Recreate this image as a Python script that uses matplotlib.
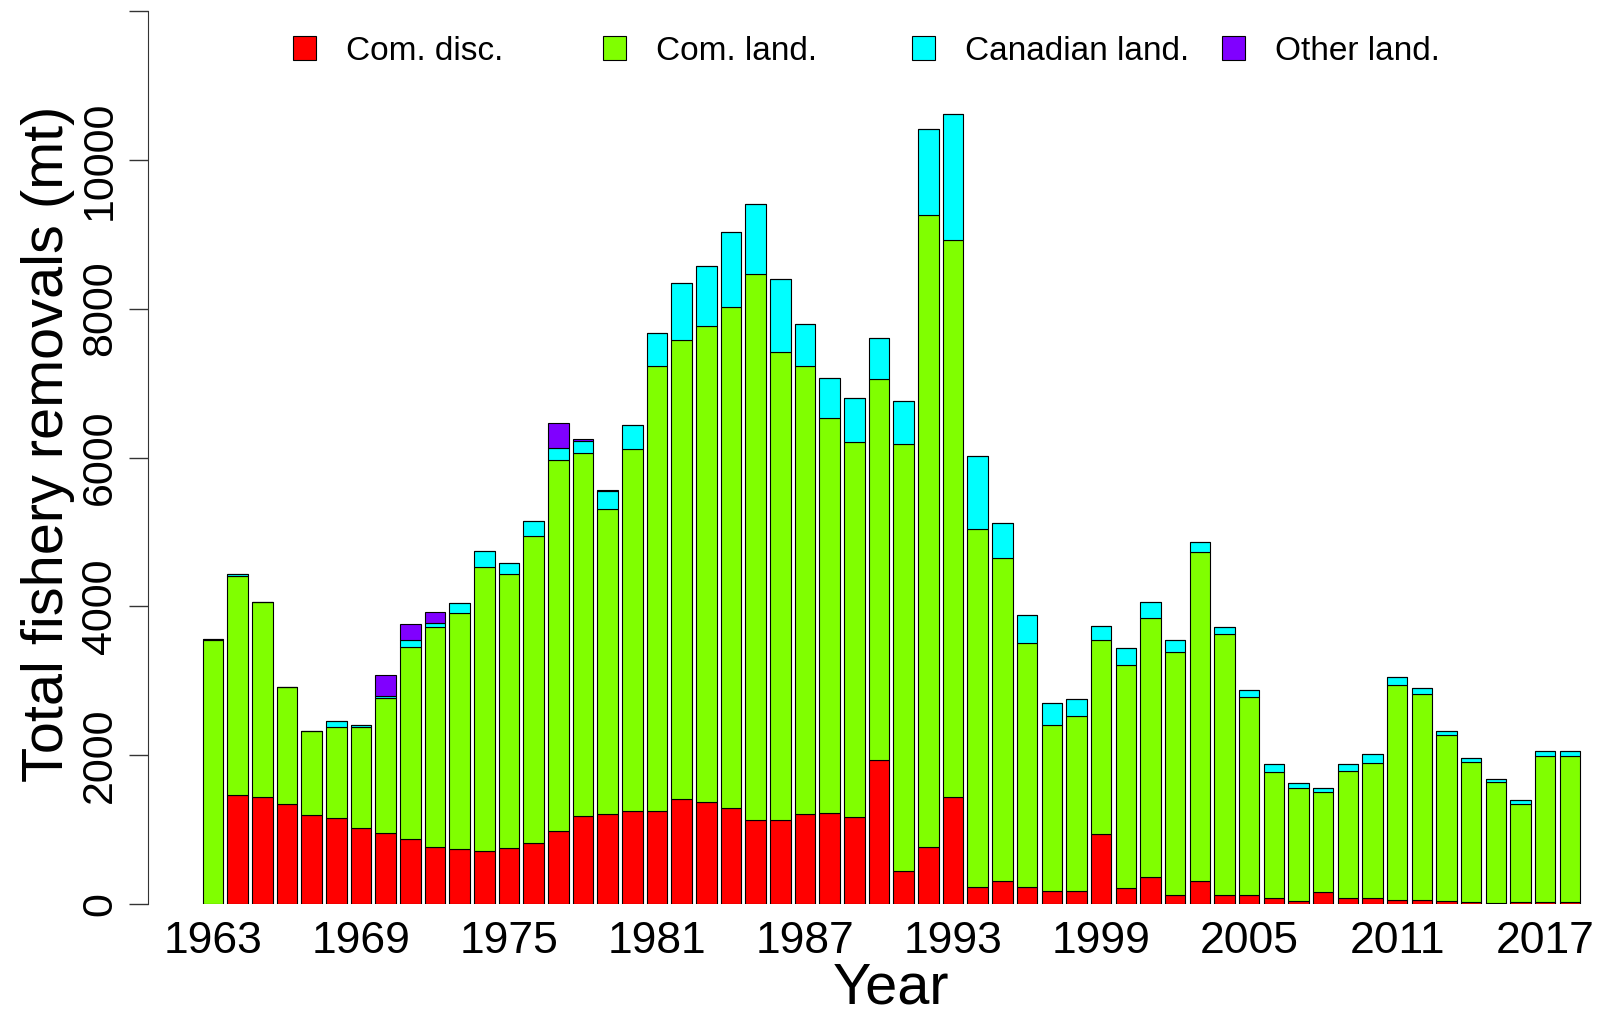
import numpy as np
import matplotlib
matplotlib.use("Agg")
import matplotlib.pyplot as plt

plt.rcParams['font.family'] = ['Liberation Sans', 'DejaVu Sans']

# data (mt)
years = list(range(1963, 2019))
com_disc = [0, 1470, 1443, 1341, 1192, 1161, 1027, 949, 871, 769,
            745, 714, 753, 823, 980, 1176, 1216, 1255, 1255, 1412,
            1373, 1286, 1129, 1129, 1216, 1224, 1169, 1929, 447, 769,
            1435, 235, 306, 227, 173, 173, 941, 220, 369, 125,
            306, 118, 118, 85, 40, 165, 85, 81, 54, 49,
            36, 27, 13, 31, 31, 27]
com_land = [3550, 2940, 2620, 1569, 1137, 1215, 1348, 1820, 2580, 2956,
            3161, 3811, 3686, 4118, 4981, 4887, 4094, 4855, 5968, 6164,
            6392, 6737, 7341, 6290, 6015, 5301, 5043, 5122, 5733, 8494,
            7483, 4800, 4337, 3279, 2227, 2352, 2612, 2996, 3474, 3255,
            4423, 3513, 2658, 1691, 1515, 1335, 1704, 1817, 2892, 2767,
            2234, 1885, 1630, 1317, 1961, 1965]
can_land = [10, 30, 0, 0, 0, 79, 25, 31, 102, 47,
            133, 220, 149, 204, 164, 157, 239, 321, 455, 769,
            807, 1012, 942, 973, 565, 549, 588, 557, 573, 1153,
            1694, 981, 478, 384, 306, 236, 180, 227, 212, 165,
            141, 87, 94, 105, 73, 53, 92, 121, 98, 85,
            58, 44, 36, 49, 58, 58]
other_land = [0, 0, 0, 0, 0, 0, 0, 282, 212, 150,
              0, 0, 0, 0, 335, 31, 20, 0, 0, 0,
              0, 0, 0, 0, 0, 0, 0, 0, 0, 0,
              0, 0, 0, 0, 0, 0, 0, 0, 0, 0,
              0, 0, 0, 0, 0, 0, 0, 0, 0, 0,
              0, 0, 0, 0, 0, 0]

labels = ['Com. disc.', 'Com. land.', 'Canadian land.', 'Other land.']
colors = ['#FF0000', '#80FF00', '#00FFFF', '#8000FF']

W, H = 1601, 1011
fig = plt.figure(figsize=(W / 100, H / 100), dpi=100)
# axes placed in pixel terms: left spine at x=148, y=0 at row 904, 12000 at row 11
ax = fig.add_axes([148 / W, 1 - 904 / H, 1 - 148 / W, (904 - 11) / H])

x = np.arange(len(years))
series = [com_disc, com_land, can_land, other_land]
bottom = np.zeros(len(years))
for vals, col in zip(series, colors):
    vals = np.array(vals, dtype=float)
    ax.bar(x, vals, width=0.833, bottom=bottom, color=col,
           edgecolor='black', linewidth=0.8)
    bottom += vals

ax.set_xlim((148 - 213) / 24.67, (W - 213) / 24.67)
ax.set_ylim(0, 12000)

# R style axes: only the left axis line
for side in ['top', 'right', 'bottom']:
    ax.spines[side].set_visible(False)
ax.spines['left'].set_bounds(0, 12000)
ax.spines['left'].set_color('#333333')

ax.set_yticks(np.arange(0, 12001, 2000))
ax.set_yticklabels([str(v) for v in range(0, 12000, 2000)] + [''],
                   rotation=90, va='center')
ax.tick_params(axis='y', length=14, width=1, color='#333333',
               labelsize=31, pad=6)

tick_idx = list(range(0, len(years), 6))
ax.set_xticks(tick_idx)
ax.set_xticklabels([str(years[i]) for i in tick_idx])
ax.tick_params(axis='x', length=0, labelsize=32, pad=12)

ax.set_xlabel('Year', fontsize=41.5, va='center')
ax.xaxis.set_label_coords((891 - 148) / (W - 148), (904 - 989) / 893)
ax.set_ylabel('Total fishery removals (mt)', fontsize=41.5, va='center')
ax.yaxis.set_label_coords((48 - 148) / (W - 148), (904 - 444) / 893)

# legend: four evenly spaced entries along the top
for k, (lab, col) in enumerate(zip(labels, colors)):
    h = plt.Rectangle((0, 0), 1, 1, facecolor=col, edgecolor='black', linewidth=0.8)
    fig.legend([h], [lab], loc='center left',
               bbox_to_anchor=((293 + k * 309.5) / W, 1 - 51 / H),
               frameon=False, fontsize=24, handlelength=0.7, handleheight=0.7,
               handletextpad=0.9, borderpad=0, borderaxespad=0)

fig.savefig('out.png', dpi=100)
